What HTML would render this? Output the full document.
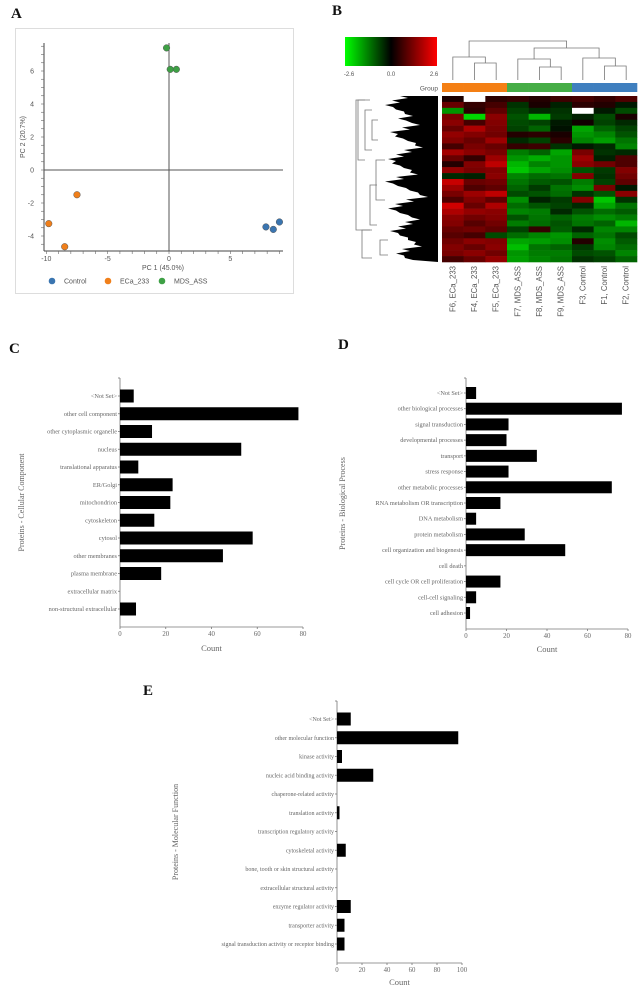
<!DOCTYPE html>
<html><head><meta charset="utf-8"><style>
body{margin:0;background:#fff;width:640px;height:991px;overflow:hidden;}
svg{display:block}
.lt{font-family:"Liberation Serif",serif;font-weight:bold;font-size:15px;fill:#111}
.sans{font-family:"Liberation Sans",sans-serif;fill:#555}
.ser{font-family:"Liberation Serif",serif;fill:#666}
</style></head><body>
<svg id="fig" width="640" height="991" viewBox="0 0 640 991">
<defs><linearGradient id="cg" x1="0" x2="1"><stop offset="0" stop-color="#00ff00"/><stop offset="0.5" stop-color="#000"/><stop offset="1" stop-color="#ff0000"/></linearGradient></defs>
<text class="lt" x="11" y="18">A</text>
<text class="lt" x="332" y="15">B</text>
<text class="lt" x="9" y="353">C</text>
<text class="lt" x="338" y="349">D</text>
<text class="lt" x="143" y="695">E</text>
<g id="pa"></g>
<g id="pb"></g>
<g id="pc"></g>
<g id="pd"></g>
<g id="pe"></g>
</svg>
<script>
const NS="http://www.w3.org/2000/svg";
function mk(p,t,a,txt){const e=document.createElementNS(NS,t);for(const k in a)e.setAttribute(k,a[k]);if(txt!==undefined)e.textContent=txt;p.appendChild(e);return e;}

// ---------- Panel A data ----------
const pcaGroups=["Control","ECa_233","MDS_ASS"];
const pcaColors=["#3a75b0","#f07f1a","#3ea045"];
const pcaX=[7.9,8.5,9.0,-7.5,-9.8,-8.5,-0.2,0.1,0.6];
const pcaY=[-3.45,-3.6,-3.15,-1.5,-3.25,-4.65,7.4,6.1,6.1];
const pcaGroupIdx=[0,0,0,1,1,1,2,2,2];
const pcaXTicks=[-10,-5,0,5];
const pcaYTicks=[-4,-2,0,2,4,6];

// ---------- Panel B data ----------
const hmSamples=["F6, ECa_233","F4, ECa_233","F5, ECa_233","F7, MDS_ASS","F8, MDS_ASS","F9, MDS_ASS","F3, Control","F1, Control","F2, Control"];
const hmGroupIdx=[1,1,1,2,2,2,0,0,0];
const hmValues=[
[0.3,9,0.5,0.6,0.4,0.7,0.8,0.6,0.9],
[1.2,0.6,0.8,-0.6,0.3,-0.4,0.5,0.4,-0.3],
[-1.8,0.5,1.1,-0.8,-0.5,-0.6,9,-0.3,-0.9],
[1.4,-2.6,1.6,-1.0,-2.2,-0.7,-0.4,-0.9,0.3],
[1.6,0.8,1.5,-0.9,-0.8,-0.3,0.2,-0.8,-0.5],
[1.2,2.0,1.4,-0.8,-1.2,-0.2,-2.0,-1.2,-0.8],
[1.7,1.5,1.3,0.4,0.5,0.3,-1.8,-1.6,-1.0],
[1.5,1.2,1.8,-0.5,-0.8,0.5,-1.6,-1.9,-1.4],
[0.8,1.4,1.2,0.6,0.7,-0.6,-0.3,-0.5,-1.6],
[1.9,1.6,1.4,-1.5,-1.2,-2.0,1.4,-0.6,-0.5],
[1.2,0.6,1.8,-1.8,-2.1,-1.8,1.8,-0.4,0.9],
[0.4,1.5,2.2,-2.2,-1.6,-1.8,1.6,1.3,0.9],
[1.7,1.4,1.5,-2.4,-2.0,-1.7,-1.0,-0.7,1.5],
[-0.5,-0.4,1.6,-1.6,-1.3,-1.4,1.5,-0.6,1.3],
[2.3,1.2,1.3,-1.4,-1.1,-1.0,-1.5,-0.8,1.1],
[1.8,0.9,1.1,-1.2,-0.7,-1.4,-1.7,1.4,-0.3],
[1.4,1.8,2.2,-0.9,-1.0,-1.3,-0.6,-1.0,1.6],
[0.9,1.5,1.1,-1.7,-0.4,-0.7,1.5,-2.4,-0.6],
[2.4,1.2,2.0,-1.3,-1.0,-0.8,-0.5,-2.0,-1.4],
[2.0,1.7,1.6,-1.6,-1.5,-0.5,-1.0,-1.3,-1.1],
[1.6,1.3,1.5,-1.0,-1.4,-1.2,-1.5,-1.7,-1.5],
[1.5,1.0,1.3,-1.5,-1.3,-1.0,-1.4,-1.2,-2.2],
[1.2,1.3,1.1,-0.8,0.6,-1.1,-0.5,-1.6,-1.6],
[1.0,0.8,-0.9,-1.3,-1.6,-1.8,-1.2,-1.4,-0.9],
[1.3,1.6,1.5,-2.0,-1.9,-1.7,0.4,-1.7,-1.1],
[1.5,1.2,1.6,-2.3,-1.4,-1.2,-0.7,-1.6,-1.3],
[1.4,1.6,1.3,-1.8,-1.5,-1.5,-0.9,-1.0,-1.6],
[0.8,1.2,1.7,-1.9,-1.6,-1.4,-0.6,-0.8,-1.2]
];
const hmColTree=[[0,[1,2],0.45],[3,[4,5],0.55],[6,[7,8],0.6]];

// ---------- Panel C data ----------
const ccCats=["<Not Set>","other cell component","other cytoplasmic organelle","nucleus","translational apparatus","ER/Golgi","mitochondrion","cytoskeleton","cytosol","other membranes","plasma membrane","extracellular matrix","non-structural extracellular"];
const ccVals=[6,78,14,53,8,23,22,15,58,45,18,0,7];
const ccTicks=[0,20,40,60,80];
// ---------- Panel D data ----------
const bpCats=["<Not Set>","other biological processes","signal transduction","developmental processes","transport","stress response","other metabolic processes","RNA metabolism OR transcription","DNA metabolism","protein metabolism","cell organization and biogenesis","cell death","cell cycle OR cell proliferation","cell-cell signaling","cell adhesion"];
const bpVals=[5,77,21,20,35,21,72,17,5,29,49,0,17,5,2];
const bpTicks=[0,20,40,60,80];
// ---------- Panel E data ----------
const mfCats=["<Not Set>","other molecular function","kinase activity","nucleic acid binding activity","chaperone-related activity","translation activity","transcription regulatory activity","cytoskeletal activity","bone, tooth or skin structural activity","extracellular structural activity","enzyme regulator activity","transporter activity","signal transduction activity or receptor binding"];
const mfVals=[11,97,4,29,0,2,0,7,0,0,11,6,6];
const mfTicks=[0,20,40,60,80,100];

// ===== Panel A =====
(function(){
const g=document.getElementById('pa');
mk(g,'rect',{x:15.5,y:28.5,width:278,height:265,fill:'none',stroke:'#ddd'});
const sx=v=>169+v*12.27, sy=v=>170-v*16.5;
mk(g,'line',{x1:44,y1:43,x2:44,y2:251,stroke:'#444'});
mk(g,'line',{x1:44,y1:251,x2:283,y2:251,stroke:'#444'});
mk(g,'line',{x1:44,y1:sy(0),x2:283,y2:sy(0),stroke:'#555'});
mk(g,'line',{x1:sx(0),y1:43,x2:sx(0),y2:251,stroke:'#555'});
for(let v=-10;v<=9;v++){mk(g,'line',{x1:sx(v),y1:251,x2:sx(v),y2:254,stroke:'#666','stroke-width':0.6});}
for(let v=-4.5;v<=7.5;v+=0.5){mk(g,'line',{x1:41,y1:sy(v),x2:44,y2:sy(v),stroke:'#666','stroke-width':0.6});}
pcaXTicks.forEach(t=>{const e=mk(g,'text',{x:sx(t),y:261,'text-anchor':'middle','font-size':7,class:'sans'},t);});
pcaYTicks.forEach(t=>{const e=mk(g,'text',{x:34,y:sy(t)+2.5,'text-anchor':'end','font-size':7,class:'sans'},t);});
let e=mk(g,'text',{x:163,y:270,'text-anchor':'middle','font-size':7,class:'sans'},'PC 1 (45.0%)');
e=mk(g,'text',{x:0,y:0,'text-anchor':'middle','font-size':7,class:'sans',transform:'translate(25,137) rotate(-90)'},'PC 2 (20.7%)');
pcaX.forEach((x,i)=>{const c=mk(g,'circle',{cx:sx(x),cy:sy(pcaY[i]),r:3.3,fill:pcaColors[pcaGroupIdx[i]],stroke:'#555','stroke-width':0.5});});
const lx=[52,108,162];
pcaGroups.forEach((n,i)=>{const c=mk(g,'circle',{cx:lx[i],cy:281,r:3.3,fill:pcaColors[i]});
const t=mk(g,'text',{x:lx[i]+12,y:283.5,'font-size':7,class:'sans'},n);});
})();

// ===== Panel B =====
(function(){
const g=document.getElementById('pb');
let e=mk(g,'rect',{x:345,y:37,width:92,height:29,fill:'url(#cg)'});
[['-2.6',349],['0.0',391],['2.6',434]].forEach(([t,x])=>{const q=mk(g,'text',{x:x,y:76,'text-anchor':'middle','font-size':6,class:'sans'},t);});
const x0=442,w=195/9,y0=96,y1=262,rh=(y1-y0)/hmValues.length;
const cx=i=>x0+w*(i+0.5);
const grpCol=["#3f7fbf","#f47f14","#46ad46"];
hmGroupIdx.forEach((gi,i)=>{const r=mk(g,'rect',{x:x0+w*i,y:83,width:w+0.3,height:9,fill:grpCol[gi]});});
e=mk(g,'text',{x:438,y:90.5,'text-anchor':'end','font-size':6.5,class:'sans'},'Group');
function col(v){if(v>5)return '#fff';const t=Math.max(-1,Math.min(1,v/2.6));return t>=0?`rgb(${Math.round(225*t)},0,0)`:`rgb(0,${Math.round(215*-t)},0)`;}
hmValues.forEach((row,r)=>row.forEach((v,c)=>{const q=mk(g,'rect',{x:x0+w*c,y:y0+rh*r,width:w+0.3,height:rh+0.3,fill:col(v)});}));
// column dendrogram
const st={stroke:'#777','stroke-width':0.8,fill:'none'};
const top=80;
const ys=[[63,57],[67,59],[66,58]];const pm=[];
hmColTree.forEach((cl,k)=>{const a=cx(cl[0]),b1=cx(cl[1][0]),b2=cx(cl[1][1]);const yi=ys[k][0],ya=ys[k][1];
mk(g,'path',Object.assign({d:`M${b1},${top}V${yi}H${b2}V${top}`},st));const m=(b1+b2)/2;
mk(g,'path',Object.assign({d:`M${a},${top}V${ya}H${m}V${yi}`},st));pm.push([(a+m)/2,ya]);});
mk(g,'path',Object.assign({d:`M${pm[1][0]},${pm[1][1]}V48H${pm[2][0]}V${pm[2][1]}`},st));
const mm=(pm[1][0]+pm[2][0])/2;
mk(g,'path',Object.assign({d:`M${pm[0][0]},${pm[0][1]}V41H${mm}V48`},st));
// row dendrogram (schematic)
let d='M438,96 ';const edge=[400,392,385,396,405,398,412,402,390,395,408,415,404,396,388,392,404,410,396,385,398,410,420,406,395,388,400,412,405,398,390,400,408,414,402,396,405];
edge.forEach((x,i)=>{d+=`L${x},${96+i*4.5} L${x+8},${98+i*4.5} `;});d+='L438,262Z';
e=mk(g,'path',{d:d,fill:'#000'});
const br=[[356,100,230,370],[358,100,160,365],[365,110,150,372],[372,120,140,378],[370,185,225,377],[362,230,258,372],[376,160,200,385],[380,240,255,388]];
br.forEach(b=>{mk(g,'path',Object.assign({d:`M${b[3]},${b[1]}H${b[0]}V${b[2]}H${b[3]}`},st));});
hmSamples.forEach((s,i)=>{const t=mk(g,'text',{x:0,y:0,'text-anchor':'end','font-size':7.8,class:'sans',fill:'#333',transform:`translate(${cx(i)+2.5},266) rotate(-90)`},s);});
})();

// ===== Bar charts =====
function bars(id,cats,vals,ticks,o){
const g=document.getElementById(id);
const sx=v=>o.x0+(v/ticks[ticks.length-1])*(o.x1-o.x0);
const step=(o.ylast-o.yfirst)/(cats.length-1);
const sy=i=>o.yfirst+step*i;
mk(g,'line',{x1:o.x0,y1:o.ytop,x2:o.x0,y2:o.ybot,stroke:'#777','stroke-width':0.8});
mk(g,'line',{x1:o.x0,y1:o.ybot,x2:o.x1,y2:o.ybot,stroke:'#777','stroke-width':0.8});
mk(g,'line',{x1:o.x0-2,y1:o.ytop,x2:o.x0,y2:o.ytop,stroke:'#777','stroke-width':0.8});
ticks.forEach(t=>{mk(g,'line',{x1:sx(t),y1:o.ybot,x2:sx(t),y2:o.ybot+2,stroke:'#777','stroke-width':0.8});
const e=mk(g,'text',{x:sx(t),y:o.ybot+9,'text-anchor':'middle','font-size':6.8,class:'ser'},t);});
cats.forEach((c,i)=>{mk(g,'line',{x1:o.x0-2,y1:sy(i),x2:o.x0,y2:sy(i),stroke:'#777','stroke-width':0.8});
const t=mk(g,'text',{x:o.x0-3,y:sy(i)+2,'text-anchor':'end','font-size':o.fs,class:'ser'},c);
if(vals[i]>0){const r=mk(g,'rect',{x:o.x0,y:sy(i)-o.bh/2,width:sx(vals[i])-o.x0,height:o.bh,fill:'#000'});}});
let e=mk(g,'text',{x:(o.x0+o.x1)/2,y:o.cy,'text-anchor':'middle','font-size':8.5,class:'ser',fill:'#444'},'Count');
e=mk(g,'text',{x:0,y:0,'text-anchor':'middle','font-size':8,class:'ser',transform:`translate(${o.tx},${(o.ytop+o.ybot)/2}) rotate(-90)`},o.title);
}
bars('pc',ccCats,ccVals,ccTicks,{x0:120,x1:303,ytop:378,ybot:627,yfirst:396,ylast:609,bh:13,fs:6.3,cy:651,tx:24,title:'Proteins - Cellular Component'});
bars('pd',bpCats,bpVals,bpTicks,{x0:466,x1:628,ytop:378,ybot:629,yfirst:393,ylast:613,bh:12,fs:6.3,cy:652,tx:345,title:'Proteins - Biological Process'});
bars('pe',mfCats,mfVals,mfTicks,{x0:337,x1:462,ytop:701,ybot:963,yfirst:719,ylast:944,bh:13,fs:6,cy:985,tx:178,title:'Proteins - Molecular Function'});
</script>
</body></html>
